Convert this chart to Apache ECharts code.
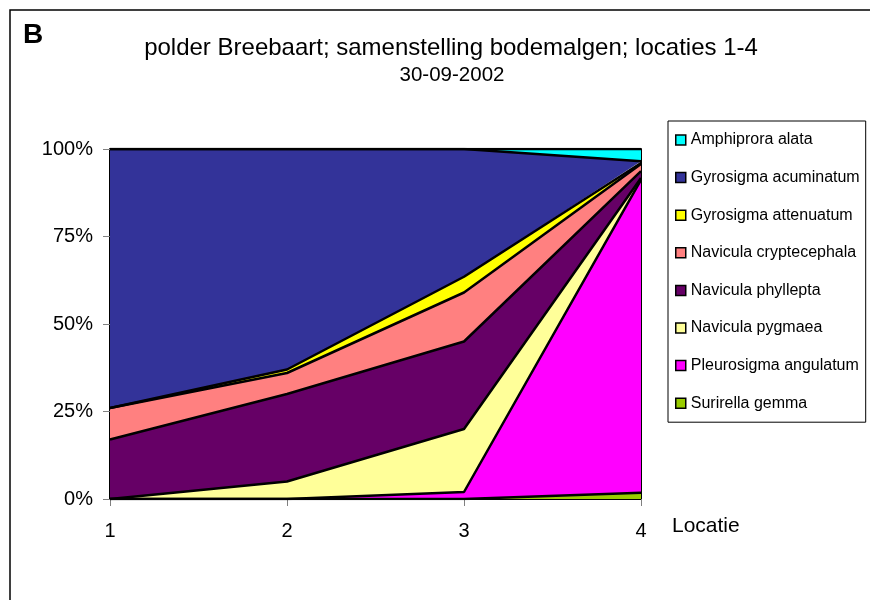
<!DOCTYPE html>
<html>
<head>
<meta charset="utf-8">
<script src="https://cdn.jsdelivr.net/npm/echarts@6/dist/echarts.min.js"></script>
<style>
  html, body { margin: 0; padding: 0; background: #fff; }
  #chart { width: 870px; height: 600px; }
</style>
</head>
<body>
<div id="chart"></div>
<script>
// locaties langs de x-as
const locaties = ['1', '2', '3', '4']

// percentages per soort (gestapeld, onderaan eerst)
const surirellaGemma = [0, 0, 0, 1.8]
const pleurosigmaAngulatum = [0, 0, 2, 89.4]
const naviculaPygmaea = [0, 5, 18, 0.5]
const naviculaPhyllepta = [17, 25, 25, 2]
const naviculaCryptecephala = [9, 6, 14, 2]
const gyrosigmaAttenuatum = [0, 1, 4.5, 0.3]
const gyrosigmaAcuminatum = [74, 63, 36.5, 0.5]
const amphiproraAlata = [0, 0, 0, 3.5]

const yTicks = [0, 25, 50, 75, 100]

// volgorde van onder naar boven
const soorten = [
  { name: 'Surirella gemma', data: surirellaGemma, color: '#99CC00' },
  { name: 'Pleurosigma angulatum', data: pleurosigmaAngulatum, color: '#FF00FF' },
  { name: 'Navicula pygmaea', data: naviculaPygmaea, color: '#FFFF99' },
  { name: 'Navicula phyllepta', data: naviculaPhyllepta, color: '#660066' },
  { name: 'Navicula cryptecephala', data: naviculaCryptecephala, color: '#FF8080' },
  { name: 'Gyrosigma attenuatum', data: gyrosigmaAttenuatum, color: '#FFFF00' },
  { name: 'Gyrosigma acuminatum', data: gyrosigmaAcuminatum, color: '#333399' },
  { name: 'Amphiprora alata', data: amphiproraAlata, color: '#00FFFF' }
]

const font = 'Arial, "Liberation Sans", sans-serif'

// vlakken eerst, daarna de zwarte randen erover
const areaSeries = soorten.map(s => ({
  name: s.name,
  type: 'line',
  stack: 'vlak',
  data: s.data,
  symbol: 'none',
  color: s.color,
  lineStyle: { width: 0 },
  areaStyle: { color: s.color, opacity: 1 },
  silent: true,
  animation: false
}))

const lineSeries = soorten.map(s => ({
  name: s.name + ' rand',
  type: 'line',
  stack: 'rand',
  data: s.data,
  symbol: 'none',
  lineStyle: { color: '#000', width: 2.5 },
  silent: true,
  animation: false
}))

const chart = echarts.init(document.getElementById('chart'))
chart.setOption({
  animation: false,
  textStyle: { fontFamily: font },
  title: [
    {
      text: 'B',
      left: 23,
      top: 21,
      padding: 0,
      textStyle: { fontFamily: font, fontSize: 28, fontWeight: 'bold', color: '#000' }
    },
    {
      text: 'polder Breebaart; samenstelling bodemalgen; locaties 1-4',
      left: 451,
      top: 36,
      padding: 0,
      textAlign: 'center',
      textStyle: { fontFamily: font, fontSize: 24, fontWeight: 'normal', color: '#000' }
    },
    {
      text: '30-09-2002',
      left: 452,
      top: 65,
      padding: 0,
      textAlign: 'center',
      textStyle: { fontFamily: font, fontSize: 20.5, fontWeight: 'normal', color: '#000' }
    }
  ],
  legend: {
    orient: 'vertical',
    left: 668,
    top: 121,
    padding: [11, 6, 11, 7],
    itemGap: 21.6,
    itemWidth: 10,
    itemHeight: 10,
    icon: 'rect',
    backgroundColor: '#fff',
    borderColor: '#000',
    borderWidth: 1,
    borderRadius: 0,
    selectedMode: false,
    textStyle: { fontFamily: font, fontSize: 16, color: '#000' },
    data: soorten.slice().reverse().map(s => ({
      name: s.name,
      itemStyle: { color: s.color, borderColor: '#000', borderWidth: 1.5 }
    }))
  },
  grid: { left: 110, right: 229, top: 149, bottom: 101 },
  xAxis: {
    type: 'category',
    data: locaties,
    boundaryGap: false,
    axisLine: { lineStyle: { color: '#000', width: 2 } },
    axisTick: { length: 7, lineStyle: { color: '#808080', width: 1 } },
    axisLabel: { margin: 22, fontSize: 20, color: '#000', fontFamily: font },
    name: 'Locatie',
    nameLocation: 'end',
    nameGap: 31,
    nameTextStyle: { fontSize: 21, color: '#000', fontFamily: font, verticalAlign: 'top', padding: [17, 0, 0, 0] }
  },
  yAxis: [
    {
      type: 'value',
      min: yTicks[0],
      max: yTicks[yTicks.length - 1],
      interval: 25,
      axisLine: { show: true, lineStyle: { color: '#000', width: 2 } },
      axisTick: { show: true, length: 7, lineStyle: { color: '#808080', width: 1 } },
      axisLabel: { margin: 17, fontSize: 20, color: '#000', fontFamily: font, formatter: '{value}%' },
      splitLine: { show: false }
    },
    {
      type: 'value',
      position: 'right',
      min: yTicks[0],
      max: yTicks[yTicks.length - 1],
      interval: 25,
      axisLine: { show: true, lineStyle: { color: '#000', width: 2 } },
      axisTick: { show: false },
      axisLabel: { show: false },
      splitLine: { show: false }
    }
  ],
  graphic: [
    {
      type: 'rect',
      shape: { x: 10, y: 10, width: 880, height: 620 },
      style: { fill: 'none', stroke: '#000', lineWidth: 1.5 },
      silent: true
    }
  ],
  series: areaSeries.concat(lineSeries)
})
</script>
</body>
</html>
